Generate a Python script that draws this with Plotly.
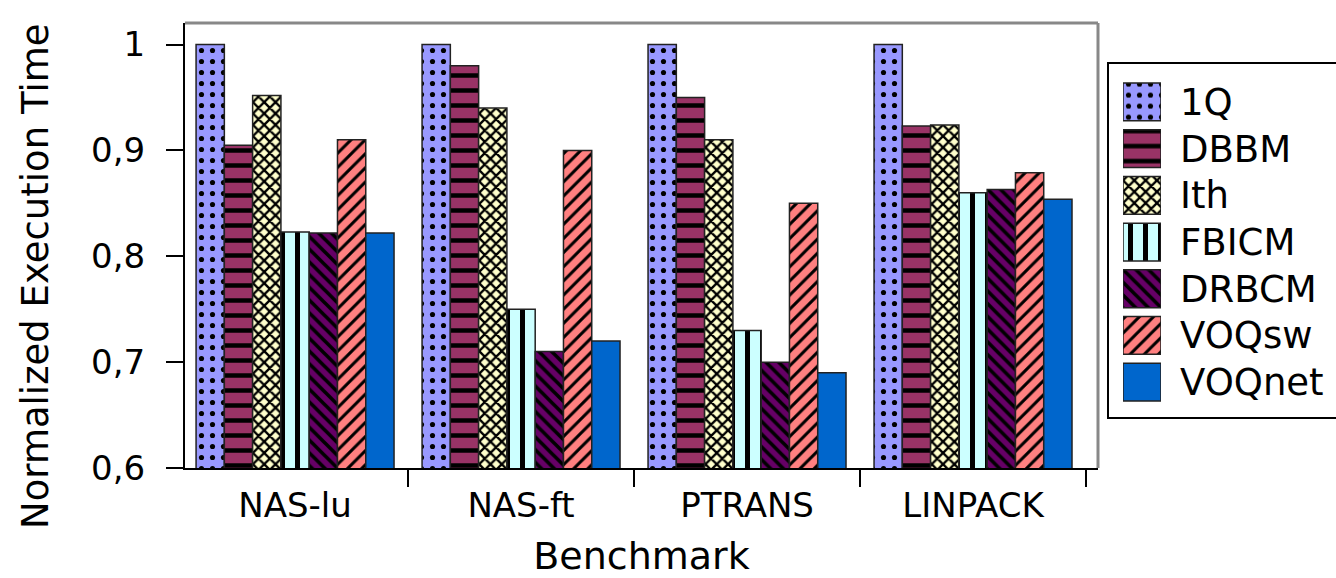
import plotly.graph_objects as go

categories = ["NAS-lu", "NAS-ft", "PTRANS", "LINPACK"]
series_names = ["1Q", "DBBM", "Ith", "FBICM", "DRBCM", "VOQsw", "VOQnet"]
v_1q = [1.0, 1.0, 1.0, 1.0]
v_dbbm = [0.905, 0.98, 0.95, 0.923]
v_ith = [0.952, 0.94, 0.91, 0.924]
v_fbicm = [0.823, 0.75, 0.73, 0.86]
v_drbcm = [0.822, 0.71, 0.70, 0.863]
v_voqsw = [0.91, 0.90, 0.85, 0.879]
v_voqnet = [0.822, 0.72, 0.69, 0.854]
y_tick_vals = [0.6, 0.7, 0.8, 0.9, 1.0]
y_tick_text = ["0,6", "0,7", "0,8", "0,9", "1"]

values = [v_1q, v_dbbm, v_ith, v_fbicm, v_drbcm, v_voqsw, v_voqnet]

styles = [
    dict(bg="#9999FF", shape=".", size=11, sol=0.17),
    dict(bg="#993366", shape="-", size=15, sol=0.3),
    dict(bg="#FFFFCC", shape="x", size=8, sol=0.5),
    dict(bg="#CCFFFF", shape="|", size=15, sol=0.33),
    dict(bg="#660066", shape="\\", size=9, sol=0.4),
    dict(bg="#FF8080", shape="/", size=10, sol=0.3),
    dict(bg="#0066CC", shape="", size=10, sol=0.3),
]

FONT = "DejaVu Sans"

def marker_for(st):
    return dict(
        color=st["bg"],
        line=dict(color="#222222", width=1.5),
        pattern=dict(shape=st["shape"], bgcolor=st["bg"], fgcolor="black",
                     fgopacity=1, size=st["size"], solidity=st["sol"],
                     fillmode="replace"),
    )

fig = go.Figure()
for name, vals, st in zip(series_names, values, styles):
    fig.add_trace(go.Bar(x=categories, y=vals, name=name, marker=marker_for(st),
                         showlegend=False, xaxis="x", yaxis="y"))

# custom legend drawn as a small horizontal bar chart
for name, st in zip(series_names, styles):
    fig.add_trace(go.Bar(x=[1], y=[name], orientation="h", width=0.81,
                         marker=marker_for(st), showlegend=False,
                         xaxis="x2", yaxis="y2", hoverinfo="skip"))

W, H = 1336, 578
ml, mt, mb = 185, 23, 110
pw = W - ml
ph = H - mt - mb

def px_x(p):
    return (p - ml) / pw

def px_y(p):
    return (H - mb - p) / ph

main_right = px_x(1098)

fig.update_layout(
    width=W, height=H,
    margin=dict(l=ml, r=0, t=mt, b=mb, pad=0),
    paper_bgcolor="white", plot_bgcolor="white",
    barmode="group", bargap=0.124, bargroupgap=0,
    font=dict(family=FONT, color="black"),
    showlegend=False,
    xaxis=dict(
        domain=[0, main_right], type="category", range=[-0.487, 3.553],
        tickson="boundaries", ticks="outside", ticklen=17, tickwidth=2,
        tickcolor="black", showline=True, linecolor="black", linewidth=2,
        showgrid=False, tickfont=dict(size=34, family=FONT),
        ticklabelstandoff=6,
        title=dict(text="Benchmark", font=dict(size=38, family=FONT), standoff=24),
    ),
    yaxis=dict(
        range=[0.6, 1.0204], tickvals=y_tick_vals, ticktext=y_tick_text,
        ticks="outside", ticklen=17, tickwidth=2, tickcolor="black",
        showline=True, linecolor="black", linewidth=2, showgrid=False,
        zeroline=False, tickfont=dict(size=34, family=FONT),
        ticklabelstandoff=14,
    ),
    xaxis2=dict(domain=[px_x(1123), px_x(1161)], range=[0, 1], anchor="y2",
                visible=False, fixedrange=True),
    yaxis2=dict(domain=[px_y(405.5), px_y(78.6)], anchor="x2", type="category",
                categoryorder="array", categoryarray=series_names,
                autorange="reversed", side="right", showline=False, ticks="",
                showgrid=False, zeroline=False,
                tickfont=dict(size=37, family=FONT), ticklabelstandoff=18),
    annotations=[
        dict(text="Normalized Execution Time", xref="paper", yref="paper",
             x=px_x(35), y=px_y(277), xanchor="center", yanchor="middle",
             textangle=-90, showarrow=False, font=dict(size=37, family=FONT)),
    ],
    shapes=[
        dict(type="line", xref="paper", yref="paper", x0=0, x1=main_right,
             y0=1, y1=1, line=dict(color="#888888", width=3)),
        dict(type="line", xref="paper", yref="paper", x0=main_right, x1=main_right,
             y0=0, y1=1, line=dict(color="#888888", width=3)),
        dict(type="rect", xref="paper", yref="paper", x0=px_x(1108), x1=1.01,
             y0=px_y(418), y1=px_y(63), line=dict(color="black", width=2),
             fillcolor="rgba(0,0,0,0)"),
    ],
)

fig.write_html("out.html")
